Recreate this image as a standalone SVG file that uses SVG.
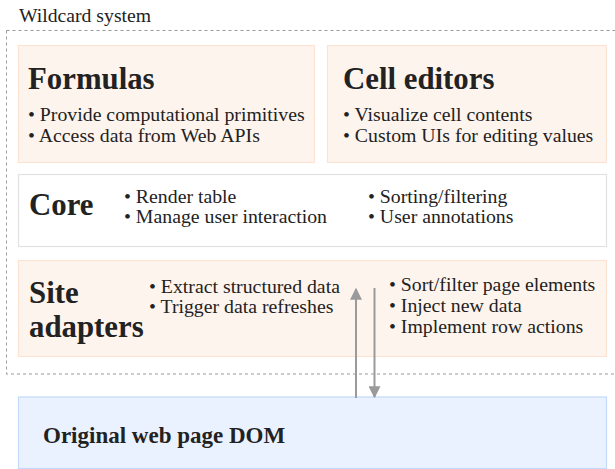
<svg xmlns="http://www.w3.org/2000/svg" width="615" height="469" viewBox="0 0 615 469">
<style>
.lbl{font-size:19.7px}
.t{font-size:30.8px;font-weight:bold}
.b{font-size:19.8px}
.warm{fill:#fef4ee;stroke:#fde4d2;stroke-width:1.2}
.core{fill:#fff;stroke:#e2e2e2;stroke-width:1.2}
.blue{fill:#ebf2ff;stroke:#c4dafa;stroke-width:1.2}
.arr{stroke:#9a9a9a;stroke-width:2;fill:none}
</style>
<defs>
<marker id="ah" viewBox="0 0 10 10" refX="9" refY="5" markerWidth="6" markerHeight="6" orient="auto" markerUnits="strokeWidth">
<path d="M0,0 L10,5 L0,10 z" fill="#9a9a9a"/>
</marker>
</defs>
<g font-family="Liberation Serif, DejaVu Serif, serif" fill="#222">
<g id="system">
<rect x="6.5" y="30.5" width="615" height="343.5" fill="none" stroke="#999" stroke-width="1" stroke-dasharray="3,3"/>
<text class="lbl" x="19" y="22">Wildcard system</text>
</g>
<g id="formulas">
<rect class="warm" x="18.5" y="45.5" width="296" height="117"/>
<text class="t" x="28" y="89">Formulas</text>
<text class="b" x="28" y="121">• Provide computational primitives</text>
<text class="b" x="28" y="142">• Access data from Web APIs</text>
</g>
<g id="cell-editors">
<rect class="warm" x="327.5" y="45.5" width="279" height="117"/>
<text class="t" x="343" y="89">Cell editors</text>
<text class="b" x="343" y="121">• Visualize cell contents</text>
<text class="b" x="343" y="142">• Custom UIs for editing values</text>
</g>
<g id="core">
<rect class="core" x="18.5" y="174.5" width="588" height="72"/>
<text class="t" x="29" y="215">Core</text>
<text class="b" x="124" y="203">• Render table</text>
<text class="b" x="124" y="223">• Manage user interaction</text>
<text class="b" x="368" y="203">• Sorting/filtering</text>
<text class="b" x="368" y="223">• User annotations</text>
</g>
<g id="site-adapters">
<rect class="warm" x="18.5" y="260.5" width="588" height="96"/>
<text class="t" x="29" y="303">Site</text>
<text class="t" x="29" y="337">adapters</text>
<text class="b" x="149" y="293">• Extract structured data</text>
<text class="b" x="149" y="313">• Trigger data refreshes</text>
<text class="b" x="389" y="291">• Sort/filter page elements</text>
<text class="b" x="389" y="312">• Inject new data</text>
<text class="b" x="389" y="333">• Implement row actions</text>
</g>
<g id="dom">
<rect class="blue" x="18.5" y="397" width="588" height="71.5"/>
<text class="t" x="43" y="443" style="font-size:23px">Original web page DOM</text>
</g>
</g>
<g id="connectors">
<line class="arr" x1="356" y1="398" x2="356" y2="289" marker-end="url(#ah)"/>
<line class="arr" x1="374.5" y1="288" x2="374.5" y2="397" marker-end="url(#ah)"/>
</g>
</svg>
